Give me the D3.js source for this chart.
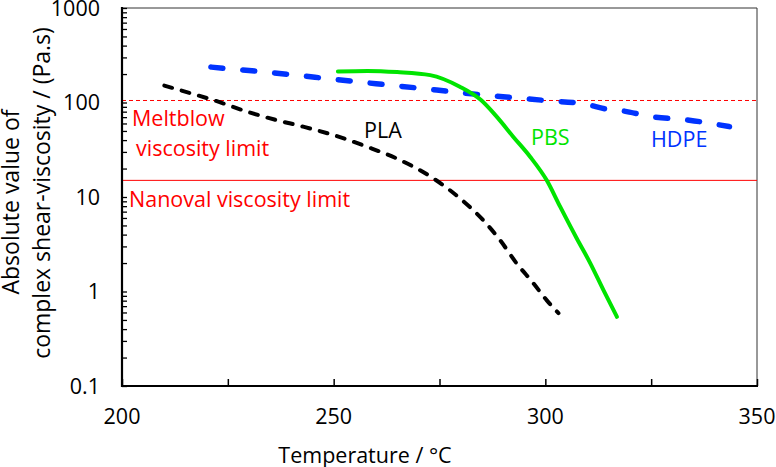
<!DOCTYPE html>
<html>
<head>
<meta charset="utf-8">
<script src="https://cdn.jsdelivr.net/npm/d3@7"></script>
<style>
body { margin: 0; background: #fff; }
text { font-family: "Open Sans", sans-serif; }
</style>
</head>
<body>
<script>

// temperatures (deg C) and viscosity (Pa.s)
var plaT = [210, 216, 221.6, 230.3, 236, 242.8, 249.9, 257.8, 265.7, 273.5, 279.8, 285.3, 289.3, 293.2, 297.2, 300.3, 303.1];
var plaV = [151, 126, 106, 78, 66, 55.5, 45.3, 34.1, 24.6, 15.8, 9.7, 5.7, 3.5, 1.99, 1.22, 0.81, 0.59];

var pbsT = [251, 258, 265, 272.8, 279.8, 284.8, 288.5, 292.4, 296.4, 300.3, 303.5, 307.4, 310.6, 313.7, 316.9];
var pbsV = [213, 216, 210, 195, 147, 106, 70.8, 43.5, 26.7, 15.1, 7.9, 3.66, 2.0, 1.04, 0.54];

var hdpeT = [221, 230, 240, 250, 260, 270, 280, 290, 300, 310, 314, 318, 325, 334, 343.5];
var hdpeV = [237, 218, 197, 176, 158, 142, 127, 115, 105, 95, 86, 82, 71, 65, 55.5];

var meltblowLimit = 105;
var nanovalLimit = 15;

var xTicks = [200, 250, 300, 350];
var xMinor = [200, 225, 250, 275, 300, 325, 350];
var yTicks = [0.1, 1, 10, 100, 1000];

var w = 776, h = 467;
var pLeft = 122, pRight = 757, pTop = 8, pBottom = 386;
var fs = 21.5;

var svg = d3.select("body").append("svg")
    .attr("width", w)
    .attr("height", h);

var x = d3.scaleLinear().domain([200, 350]).range([pLeft, pRight]);
var y = d3.scaleLog().domain([0.1, 1000]).range([pBottom, pTop]);

// frame top / right
svg.append("line").attr("x1", pLeft).attr("x2", pRight).attr("y1", pTop).attr("y2", pTop)
    .attr("stroke", "#333").attr("stroke-width", 1);
svg.append("line").attr("x1", pRight).attr("x2", pRight).attr("y1", pTop).attr("y2", pBottom)
    .attr("stroke", "#333").attr("stroke-width", 1);

// limit lines
svg.append("line").attr("x1", pLeft).attr("x2", pRight)
    .attr("y1", y(meltblowLimit)).attr("y2", y(meltblowLimit))
    .attr("stroke", "#ff0000").attr("stroke-width", 1).attr("stroke-dasharray", "4,3");
svg.append("line").attr("x1", pLeft).attr("x2", pRight)
    .attr("y1", y(nanovalLimit)).attr("y2", y(nanovalLimit))
    .attr("stroke", "#ff0000").attr("stroke-width", 1);

var line = d3.line()
    .x(function(d) { return x(d[0]); })
    .y(function(d) { return y(d[1]); })
    .curve(d3.curveMonotoneX);

function pairs(a, b) { return a.map(function(t, i) { return [t, b[i]]; }); }

svg.append("path").datum(pairs(hdpeT, hdpeV))
    .attr("d", line).attr("fill", "none")
    .attr("stroke", "#0033ff").attr("stroke-width", 5.5)
    .attr("stroke-linecap", "round").attr("stroke-dasharray", "12,20");

svg.append("path").datum(pairs(pbsT, pbsV))
    .attr("d", line).attr("fill", "none")
    .attr("stroke", "#00e400").attr("stroke-width", 4)
    .attr("stroke-linecap", "round");

svg.append("path").datum(pairs(plaT, plaV))
    .attr("d", line).attr("fill", "none")
    .attr("stroke", "#000").attr("stroke-width", 4)
    .attr("stroke-linecap", "round").attr("stroke-dasharray", "8,10");

// axes
var yMinor = [];
[0.1, 1, 10, 100].forEach(function(d) {
  for (var k = 1; k < 10; k++) yMinor.push(d * k);
});
yMinor.push(1000);

svg.append("g").attr("transform", "translate(" + pLeft + ",0)")
    .call(d3.axisRight(y).tickValues(yMinor).tickSize(5).tickFormat(""))
    .call(function(g) { g.select(".domain").remove(); })
    .selectAll("line").attr("stroke-width", 1.3);

svg.append("g").attr("transform", "translate(0," + pBottom + ")")
    .call(d3.axisTop(x).tickValues(xMinor).tickSize(7).tickFormat(""))
    .call(function(g) { g.select(".domain").remove(); })
    .selectAll("line").attr("stroke-width", 1.5);

svg.append("line").attr("x1", pLeft).attr("x2", pLeft).attr("y1", pTop - 1).attr("y2", pBottom + 1)
    .attr("stroke", "#000").attr("stroke-width", 2.2);
svg.append("line").attr("x1", pLeft - 1).attr("x2", pRight + 1).attr("y1", pBottom).attr("y2", pBottom)
    .attr("stroke", "#000").attr("stroke-width", 2.2);

svg.selectAll(".ylab").data(yTicks).enter().append("text")
    .attr("x", 100).attr("y", function(d) { return y(d) + 7.5; })
    .attr("text-anchor", "end").attr("font-size", fs)
    .text(function(d) { return d; });

svg.selectAll(".xlab").data(xTicks).enter().append("text")
    .attr("x", function(d) { return x(d); }).attr("y", 424)
    .attr("text-anchor", "middle").attr("font-size", fs)
    .text(function(d) { return d; });

svg.append("text").attr("x", 365).attr("y", 463)
    .attr("text-anchor", "middle").attr("font-size", fs)
    .text("Temperature / \u00b0C");

svg.append("text").attr("transform", "translate(19,202) rotate(-90)")
    .attr("text-anchor", "middle").attr("font-size", 23)
    .text("Absolute value of");
svg.append("text").attr("transform", "translate(50,193) rotate(-90)")
    .attr("text-anchor", "middle").attr("font-size", 23)
    .text("complex shear-viscosity / (Pa.s)");

// labels
function label(t, px, py, c) {
  svg.append("text").attr("x", px).attr("y", py).attr("font-size", fs)
      .attr("fill", c).text(t);
}
label("Meltblow", 132, 126, "#ff0000");
label("viscosity limit", 136, 156, "#ff0000");
label("Nanoval viscosity limit", 129, 207, "#ff0000");
label("PLA", 364, 138, "#000");
label("PBS", 531, 145, "#00e400");
label("HDPE", 651, 147, "#0033ff");

</script>
</body>
</html>
